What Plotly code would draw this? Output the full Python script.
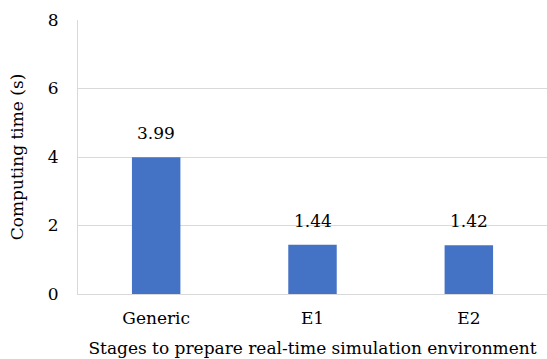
import plotly.graph_objects as go

stages = ["Generic", "E1", "E2"]
computing_time = [3.99, 1.44, 1.42]
y_ticks = [0, 2, 4, 6, 8]

FONT = "DejaVu Serif"
SIZE = 17
GRID = "#d9d9d9"

fig = go.Figure()
fig.add_trace(go.Bar(
    x=stages,
    y=computing_time,
    marker=dict(color="#4472c4", line=dict(width=0)),
    width=0.31,
    hoverinfo="x+y",
))

for s, v in zip(stages, computing_time):
    fig.add_annotation(
        x=s, y=v, text=f"{v:.2f}", showarrow=False,
        yanchor="bottom", yshift=12,
        font=dict(family=FONT, size=SIZE, color="#000000"),
    )

fig.update_layout(
    width=547, height=359,
    margin=dict(l=78, r=0, t=20, b=65),
    plot_bgcolor="white", paper_bgcolor="white",
    font=dict(family=FONT, size=SIZE, color="#000000"),
    showlegend=False,
    xaxis=dict(
        showline=True, linecolor=GRID, linewidth=1,
        showgrid=False, ticks="outside", ticklen=9, tickcolor="rgba(0,0,0,0)",
        tickfont=dict(family=FONT, size=SIZE, color="#000000"),
        title=dict(text="Stages to prepare real-time simulation environment",
                   font=dict(family=FONT, size=SIZE, color="#000000"), standoff=14),
    ),
    yaxis=dict(
        range=[0, 8], tickvals=y_ticks,
        showline=True, linecolor=GRID, linewidth=1,
        showgrid=True, gridcolor=GRID, gridwidth=1,
        zeroline=False, ticks="outside", ticklen=15, tickcolor="rgba(0,0,0,0)",
        tickfont=dict(family=FONT, size=SIZE, color="#000000"),
        title=dict(text="Computing time (s)",
                   font=dict(family=FONT, size=SIZE, color="#000000"), standoff=19),
    ),
)

fig.write_html("out.html")
